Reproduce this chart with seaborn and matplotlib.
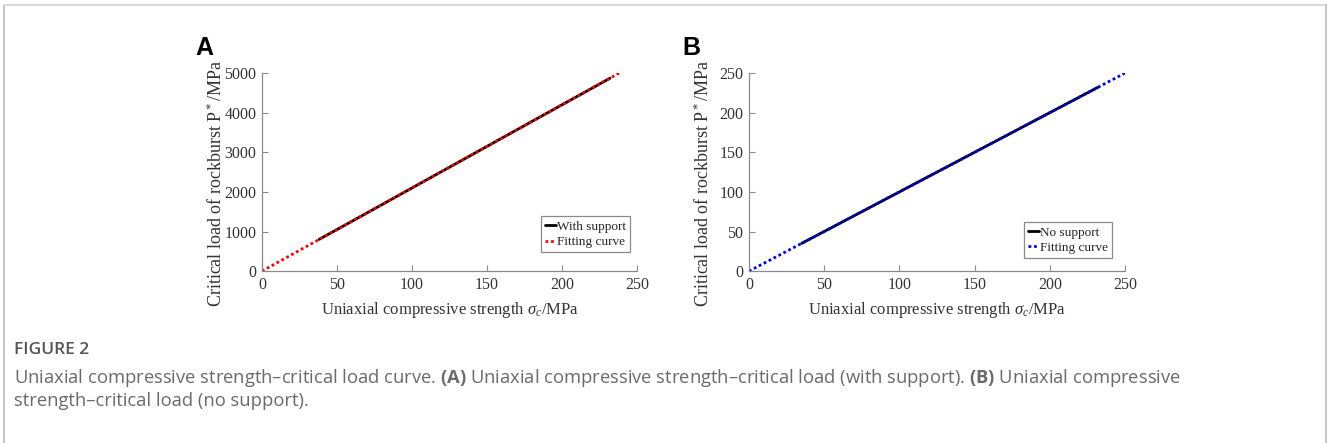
import numpy as np
import pandas as pd
import seaborn as sns
import matplotlib.pyplot as plt

# Dados
sigma_a = [38, 50, 100, 150, 200, 232]
load_a = [800, 1050, 2100, 3150, 4200, 4870]
fit_sigma_a = [0, 50, 100, 150, 200, 238]
fit_load_a = [0, 1050, 2100, 3150, 4200, 5000]

sigma_b = [35, 50, 100, 150, 200, 232]
load_b = [35, 50, 100, 150, 200, 232]
fit_sigma_b = [0, 50, 100, 150, 200, 250]
fit_load_b = [0, 50, 100, 150, 200, 250]

x_ticks = [0, 50, 100, 150, 200, 250]
y_ticks_a = [0, 1000, 2000, 3000, 4000, 5000]
y_ticks_b = [0, 50, 100, 150, 200, 250]

sns.set_style("ticks")
plt.rcParams["font.family"] = ["Liberation Serif", "DejaVu Serif"]
plt.rcParams["mathtext.fontset"] = "custom"
plt.rcParams["mathtext.rm"] = "Liberation Serif"
plt.rcParams["mathtext.it"] = "Liberation Serif:italic"
plt.rcParams["mathtext.bf"] = "Open Sans:bold"

fig = plt.figure(figsize=(13.28, 4.43), dpi=100)

# moldura cinza da pagina
fig.add_artist(plt.Line2D([0.003, 0.003], [0, 0.989], color="#c8c8c8", lw=1.5))
fig.add_artist(plt.Line2D([0.003, 0.9985], [0.989, 0.989], color="#d8d8d8", lw=1.5))
fig.add_artist(plt.Line2D([0.9985, 0.9985], [0, 0.989], color="#c8c8c8", lw=1.5))


def painel(rect, sig, load, fsig, fload, yticks, line_label, fit_color, letter, leg_pos):
    ax = fig.add_axes(rect)
    d1 = pd.DataFrame({"x": sig, "y": load})
    d2 = pd.DataFrame({"x": fsig, "y": fload})
    sns.lineplot(data=d1, x="x", y="y", ax=ax, color="black", lw=2, label=line_label)
    sns.lineplot(data=d2, x="x", y="y", ax=ax, color=fit_color, lw=2, linestyle=(0, (1, 1)),
                 label="Fitting curve")
    ax.set_xlim(0, 250)
    ax.set_ylim(yticks[0], yticks[-1])
    ax.set_xticks(x_ticks)
    ax.set_yticks(yticks)
    sns.despine(ax=ax)
    for s in ["left", "bottom"]:
        ax.spines[s].set_color("#8a8a8a")
        ax.spines[s].set_linewidth(0.9)
    ax.tick_params(direction="in", length=4, color="#8a8a8a", labelsize=11.5,
                   labelcolor="#333333", pad=4)
    ax.set_xlabel(r"Uniaxial compressive strength $\sigma_c$/MPa", fontsize=12, color="#333333",
                  labelpad=5)
    ax.set_ylabel(r"Critical load of rockburst P$^*$/MPa", fontsize=13, color="#333333")
    ax.yaxis.set_label_coords(-0.097, 0.445)
    leg = ax.legend(loc="lower right", bbox_to_anchor=leg_pos, fontsize=9.5,
                    handlelength=0.8, handletextpad=0.1, borderpad=0.3, labelspacing=0.25,
                    fancybox=False, framealpha=1, borderaxespad=0)
    leg.get_frame().set_edgecolor("#8a8a8a")
    leg.get_frame().set_linewidth(0.9)
    fig.text(rect[0] - 0.0505, 0.875, letter, fontsize=18, fontweight="bold",
             family=["Liberation Sans", "DejaVu Sans"], color="black")
    return ax


painel([0.1973, 0.388, 0.2824, 0.447], sigma_a, load_a, fit_sigma_a, fit_load_a,
       y_ticks_a, "With support", "red", "A", (0.981, 0.096))
painel([0.564, 0.388, 0.2831, 0.447], sigma_b, load_b, fit_sigma_b, fit_load_b,
       y_ticks_b, "No support", "blue", "B", (0.965, 0.066))

cap = ["Open Sans", "DejaVu Sans"]
fig.text(0.0105, 1 - 350 / 443, "FIGURE 2", family=cap, fontsize=12.5, color="#555555",
         fontweight="semibold", va="center")
fig.text(0.0105, 1 - 378 / 443,
         "Uniaxial compressive strength\u2013critical load curve. $\\bf{(A)}$ Uniaxial compressive "
         "strength\u2013critical load (with support). $\\bf{(B)}$ Uniaxial compressive",
         family=cap, fontsize=13.2, color="#6a6a6a", va="center")
fig.text(0.0105, 1 - 401 / 443, "strength\u2013critical load (no support).",
         family=cap, fontsize=13.2, color="#6a6a6a", va="center")

plt.savefig("out.png", dpi=100)
